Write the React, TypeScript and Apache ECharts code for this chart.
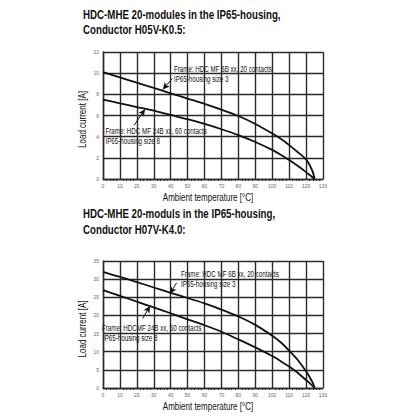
import React, { useEffect, useRef } from "react";
import * as echarts from "echarts";

const temps = [0, 10, 20, 30, 40, 50, 60, 70, 80, 90, 100, 105, 110, 115, 120, 122, 124, 125];
const topUpper = [10.1, 9.6, 9.1, 8.6, 8.1, 7.6, 7.1, 6.55, 5.95, 5.2, 4.3, 3.8, 3.2, 2.55, 1.85, 1.35, 0.65, 0];
const topLower = [7.5, 7.15, 6.8, 6.45, 6.05, 5.65, 5.2, 4.7, 4.15, 3.5, 2.75, 2.3, 1.8, 1.25, 0.65, 0.4, 0.14, 0];
const botUpper = [32, 30.6, 29.2, 27.7, 26.2, 24.8, 23.3, 21.6, 19.7, 17.4, 14.4, 12.6, 10.3, 7.8, 4.6, 3.1, 1.4, 0];
const botLower = [27, 25.4, 23.8, 22.2, 20.6, 18.9, 17.3, 15.5, 13.4, 11.2, 8.8, 7.4, 5.9, 4.2, 2.2, 1.4, 0.5, 0];

const titles = [
  "HDC-MHE 20-modules in the IP65-housing,",
  "Conductor H05V-K0.5:",
  "HDC-MHE 20-moduls in the IP65-housing,",
  "Conductor H07V-K4.0:",
];
const xName = "Ambient temperature [°C]";
const yName = "Load current [A]";
const labelsTopUpper = ["Frame: HDC MF 6B xx, 20 contacts", "IP65-housing size 3"];
const labelsTopLower = ["Frame: HDC MF 24B xx, 60 contacts", "IP65-housing size 8"];
const labelsBotLower = ["Frame: HDCMF 24B xx, 60 contacts", "IP65-housing size 8"];

// arrow endpoints in data space [tail, tip]
const arrTopUpper = [[41, 9.5], [35.3, 8.45]];
const arrTopLower = [[18.5, 5.1], [24.8, 6.6]];
const arrBotUpper = [[43.5, 29.0], [39.6, 26.0]];
const arrBotLower = [[23.5, 19.2], [27.8, 22.6]];

const FONT = '"Liberation Sans", Arial, sans-serif';
const GRID = "#2a2a2a";

function measure(text: string, size: number, bold: boolean) {
  const c = document.createElement("canvas").getContext("2d");
  if (!c) return text.length * size * 0.55;
  c.font = `${bold ? "bold " : ""}${size}px "Liberation Sans", Arial, sans-serif`;
  return c.measureText(text).width;
}

function mkX(gridIndex: number) {
  return {
    type: "value",
    gridIndex,
    min: 0,
    max: 130,
    interval: 10,
    axisLine: { show: true, lineStyle: { color: GRID, width: 1.4 } },
    axisTick: { show: false },
    minorTick: { show: true, splitNumber: 5, length: 2, lineStyle: { color: GRID } },
    axisLabel: { fontSize: 5, color: "#666", margin: 4, fontFamily: FONT },
    splitLine: { show: true, lineStyle: { color: GRID, width: 1.4 } },
  };
}
function mkY(gridIndex: number, max: number, interval: number) {
  return {
    type: "value",
    gridIndex,
    min: 0,
    max,
    interval,
    axisLine: { show: true, lineStyle: { color: GRID, width: 1.4 } },
    axisTick: { show: false },
    axisLabel: { fontSize: 5, color: "#666", margin: 4, fontFamily: FONT },
    splitLine: { show: true, lineStyle: { color: GRID, width: 1.4 } },
  };
}
function arrow(a: number[][]) {
  return {
    silent: true,
    symbol: ["none", "arrow"],
    symbolSize: [5, 7],
    label: { show: false },
    lineStyle: { color: "#111", width: 1, type: "solid" },
    data: [[{ coord: a[0] }, { coord: a[1] }]],
  };
}
function series(vals: number[], xi: number, arr: number[][]) {
  return {
    type: "line",
    xAxisIndex: xi,
    yAxisIndex: xi,
    data: temps.map((t, i) => [t, vals[i]]),
    smooth: 0.3,
    showSymbol: false,
    lineStyle: { color: "#111", width: 1.8 },
    markLine: arrow(arr),
  };
}
function txt(x: number, y: number, text: string, size: number, sx: number, bold = false, rot = 0, align = "left") {
  return {
    type: "text",
    x,
    y,
    rotation: rot,
    scaleX: sx,
    style: {
      text,
      fontFamily: FONT,
      fontSize: size,
      fontWeight: bold ? "bold" : "normal",
      fill: "#111",
      textAlign: align,
      textVerticalAlign: "middle",
    },
  };
}

export default function App() {
  const ref = useRef<HTMLDivElement>(null);
  useEffect(() => {
    if (!ref.current) return;
    const chart = echarts.init(ref.current, null, { renderer: "svg" });
    const O = 8; // body margin offset
    const sTitle = 198 / measure(titles[0], 12, true);
    const sAnn = 98 / measure(labelsTopUpper[0], 9, false);
    const sName = 90.5 / measure(xName, 10.5, false);
    chart.setOption({
      animation: false,
      backgroundColor: "#fff",
      grid: [
        { left: 103 - O, top: 52 - O, width: 220, height: 127 },
        { left: 103 - O, top: 261 - O, width: 220, height: 127 },
      ],
      xAxis: [mkX(0), mkX(1)],
      yAxis: [mkY(0, 12, 2), mkY(1, 35, 5)],
      series: [
        series(topUpper, 0, arrTopUpper),
        series(topLower, 0, arrTopLower),
        series(botUpper, 1, arrBotUpper),
        series(botLower, 1, arrBotLower),
      ],
      graphic: [
        txt(83 - O, 14.5 - O, titles[0], 12, sTitle, true),
        txt(83 - O, 30 - O, titles[1], 12, sTitle, true),
        txt(83 - O, 213.5 - O, titles[2], 12, sTitle, true),
        txt(83 - O, 229.5 - O, titles[3], 12, sTitle, true),
        txt(174 - O, 69.5 - O, labelsTopUpper[0], 9, sAnn),
        txt(174 - O, 79.5 - O, labelsTopUpper[1], 9, sAnn),
        txt(105.5 - O, 131.5 - O, labelsTopLower[0], 9, sAnn),
        txt(105.5 - O, 141 - O, labelsTopLower[1], 9, sAnn),
        txt(181 - O, 274 - O, labelsTopUpper[0], 9, sAnn),
        txt(181 - O, 284.5 - O, labelsTopUpper[1], 9, sAnn),
        txt(102 - O, 328.5 - O, labelsBotLower[0], 9, sAnn),
        txt(103 - O, 338 - O, labelsBotLower[1], 9, sAnn),
        txt(208 - O, 198 - O, xName, 10.5, sName, false, 0, "center"),
        txt(208 - O, 406.5 - O, xName, 10.5, sName, false, 0, "center"),
        txt(83 - O, 119.5 - O, yName, 10.5, sName, false, Math.PI / 2, "center"),
        txt(83 - O, 329 - O, yName, 10.5, sName, false, Math.PI / 2, "center"),
      ],
    });
    return () => chart.dispose();
  }, []);
  return <div ref={ref} style={{ width: 408, height: 408 }} />;
}
